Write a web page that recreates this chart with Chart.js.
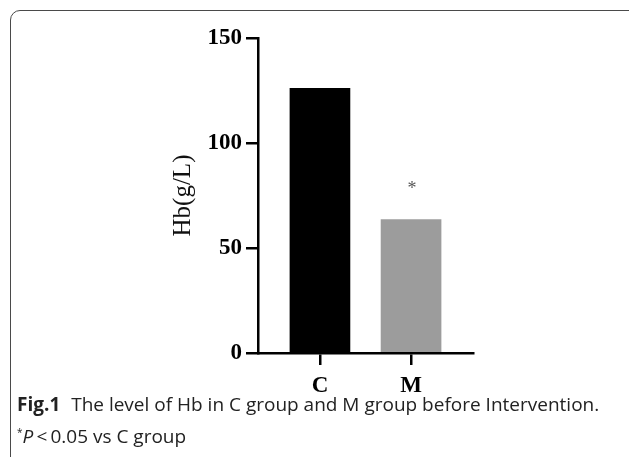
<!DOCTYPE html>
<html>
<head>
    <title>Hb level</title>
    <script src="https://cdn.jsdelivr.net/npm/chart.js"></script>
    <style>
        body {
            margin: 0;
            padding: 0;
            background-color: #fff;
            width: 629px;
            height: 457px;
            overflow: hidden;
            position: relative;
        }

        .frame {
            position: absolute;
            left: 10px;
            top: 10px;
            width: 650px;
            height: 520px;
            border: 1.5px solid #4a4a4a;
            border-radius: 10px;
        }

        .chart-box {
            position: absolute;
            left: 0;
            top: 0;
            width: 629px;
            height: 400px;
        }

        .caption {
            position: absolute;
            left: 17px;
            top: 390px;
            font-family: "Open Sans", "Noto Sans", sans-serif;
            font-size: 19px;
            line-height: 28px;
            color: #222;
            white-space: nowrap;
        }

        .caption b {
            font-weight: 700;
            margin-right: 6px;
        }
    </style>
</head>
<body>
    <div class="frame"></div>
    <div class="chart-box"><canvas id="hbChart"></canvas></div>
    <div class="caption">
        <div><b>Fig.1</b> The level of Hb in C group and M group before Intervention.</div>
        <div><sup style="font-size:10px">*</sup><i>P</i>&thinsp;&lt;&thinsp;0.05 vs C group</div>
    </div>

    <script>
        const groups = ['C', 'M'];
        const hbValues = [126, 63.5];
        const barColors = ['#000000', '#9c9c9c'];
        const markers = ['', '*'];
        const yTicks = [0, 50, 100, 150];

        // asterisk above the bars that differ from C
        const starPlugin = {
            id: 'stars',
            afterDatasetsDraw(chart) {
                const ctx = chart.ctx;
                const meta = chart.getDatasetMeta(0);
                ctx.save();
                ctx.fillStyle = '#555';
                ctx.font = '18px "Liberation Serif"';
                ctx.textAlign = 'center';
                ctx.textBaseline = 'middle';
                meta.data.forEach((bar, i) => {
                    if (markers[i]) ctx.fillText(markers[i], bar.x + 1, bar.y - 30);
                });
                ctx.restore();
            }
        };

        new Chart(document.getElementById('hbChart'), {
            type: 'bar',
            data: {
                datasets: [{
                    data: groups.map((g, i) => ({ x: i + 1, y: hbValues[i] })),
                    backgroundColor: barColors,
                    barThickness: 60,
                    borderWidth: 0
                }]
            },
            options: {
                responsive: true,
                maintainAspectRatio: false,
                animation: false,
                layout: { padding: { left: 150, right: 156, top: 38, bottom: 0 } },
                plugins: { legend: { display: false }, tooltip: { enabled: false } },
                scales: {
                    x: {
                        type: 'linear',
                        min: 0.32,
                        max: 2.68,
                        offset: false,
                        afterBuildTicks: (scale) => {
                            scale.ticks = groups.map((g, i) => ({ value: i + 1 }));
                        },
                        afterFit: (scale) => { scale.height = 47; },
                        border: { color: '#000', width: 2.5 },
                        grid: { offset: false, drawOnChartArea: false, tickLength: 12, color: '#000', lineWidth: 2.5 },
                        ticks: {
                            callback: (v) => groups[v - 1],
                            color: '#000',
                            padding: 7,
                            font: { family: '"Liberation Serif"', size: 23, weight: 'bold' }
                        }
                    },
                    y: {
                        min: 0,
                        max: 150,
                        afterBuildTicks: (scale) => {
                            scale.ticks = yTicks.map(v => ({ value: v }));
                        },
                        afterFit: (scale) => { scale.width = 108; },
                        border: { color: '#000', width: 2.5 },
                        grid: { drawOnChartArea: false, tickLength: 12, color: '#000', lineWidth: 2.5 },
                        ticks: {
                            color: '#000',
                            padding: 4,
                            font: { family: '"Liberation Serif"', size: 23, weight: 'bold' }
                        },
                        title: {
                            display: true,
                            text: 'Hb(g/L)',
                            color: '#111',
                            padding: { top: 18, bottom: 0 },
                            font: { family: '"Liberation Serif"', size: 25 }
                        }
                    }
                }
            },
            plugins: [starPlugin]
        });
    </script>
</body>
</html>
